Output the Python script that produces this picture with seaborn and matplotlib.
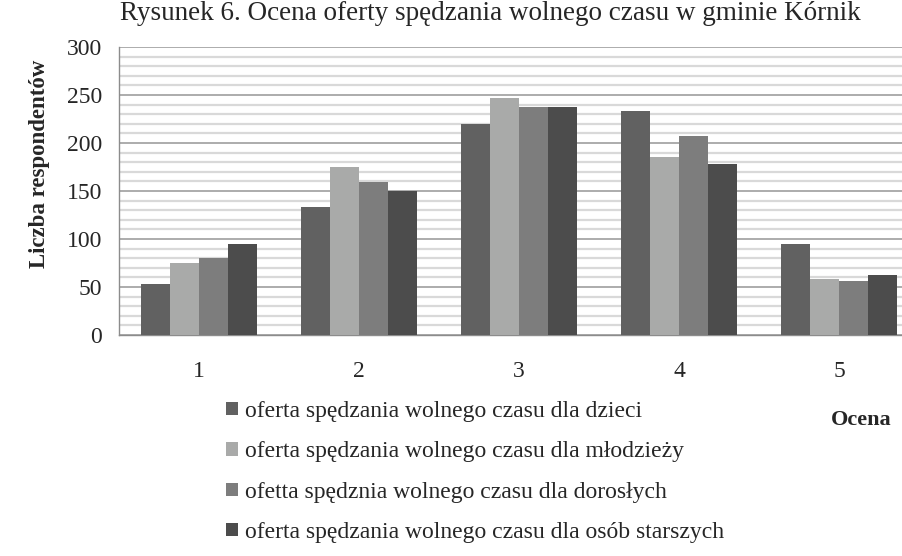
import pandas as pd
import matplotlib
matplotlib.use("Agg")
import matplotlib.pyplot as plt
import seaborn as sns
from matplotlib.patches import Patch

# data
ratings = ["1", "2", "3", "4", "5"]
series = [
    "oferta spędzania wolnego czasu dla dzieci",
    "oferta spędzania wolnego czasu dla młodzieży",
    "ofetta spędznia wolnego czasu dla dorosłych",
    "oferta spędzania wolnego czasu dla osób starszych",
]
children = [53, 133, 220, 233, 95]
youth = [75, 175, 247, 185, 58]
adults = [80, 159, 237, 207, 56]
seniors = [95, 150, 237, 178, 62]
colors = ["#616161", "#a9aaa9", "#7d7d7d", "#4c4c4c"]

rows = []
for name, vals in zip(series, [children, youth, adults, seniors]):
    for r, v in zip(ratings, vals):
        rows.append({"Ocena": r, "seria": name, "wartosc": v})
df = pd.DataFrame(rows)

sns.set_style("white")
plt.rcParams["font.family"] = ["Liberation Serif", "DejaVu Serif"]

fig = plt.figure(figsize=(9.02, 5.56), dpi=100)
ax = fig.add_axes([119 / 902, 1 - 335 / 556, 800 / 902, 288 / 556])

sns.barplot(data=df, x="Ocena", y="wartosc", hue="seria", hue_order=series,
            palette=colors, width=0.73, saturation=1, legend=False,
            edgecolor="none", ax=ax, zorder=3)

ax.set_xlim(-0.5, 4.5)
ax.set_ylim(0, 300)
ax.set_yticks(range(0, 301, 50))
ax.set_yticks(range(0, 301, 10), minor=True)
ax.grid(True, which="minor", axis="y", color="#d9d9d9", linewidth=1.6, zorder=0)
ax.grid(True, which="major", axis="y", color="#a6a6a6", linewidth=1.3, zorder=0)
ax.set_axisbelow(True)

ax.tick_params(axis="y", which="major", direction="out", length=8, width=1,
               color="#888888", labelsize=17, pad=4)
ax.tick_params(axis="y", which="minor", length=0)
ax.tick_params(axis="x", length=0, labelsize=17, pad=19)
for s in ["top", "right"]:
    ax.spines[s].set_visible(False)
for s in ["left", "bottom"]:
    ax.spines[s].set_color("#8c8c8c")
    ax.spines[s].set_linewidth(1)
ax.set_xlabel("")
ax.set_ylabel("")

fig.text(490 / 902, 1 - 14 / 556, "Rysunek 6. Ocena oferty spędzania wolnego czasu w gminie Kórnik",
         ha="center", va="center", fontsize=19.5)
fig.text(40 / 902, 1 - 164 / 556, "Liczba respondentów", rotation=90,
         ha="center", va="center", fontsize=16.5, fontweight="bold")
fig.text(861 / 902, 1 - 420 / 556, "Ocena", ha="center", va="center",
         fontsize=16, fontweight="bold")

handles = [Patch(facecolor=c, edgecolor="none") for c in colors]
fig.legend(handles, series, loc="upper left", bbox_to_anchor=(226 / 902, 1 - 401 / 556),
           frameon=False, fontsize=17, handlelength=0.5, handleheight=0.5,
           handletextpad=0.3, labelspacing=0.82, borderaxespad=0, borderpad=0)

fig.savefig("out.png", dpi=100)
